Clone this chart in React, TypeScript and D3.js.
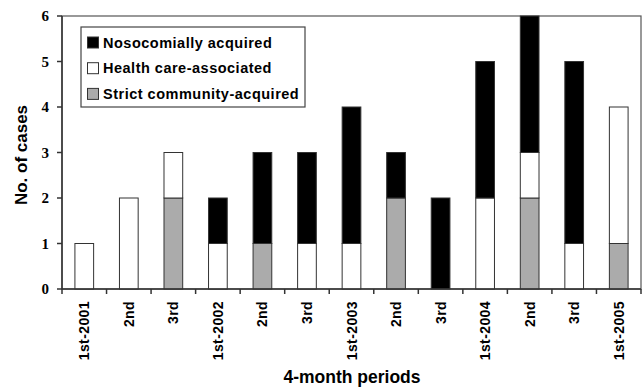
import React, { useEffect, useRef } from "react";
import * as d3 from "d3";

const categories = ["1st-2001", "2nd", "3rd", "1st-2002", "2nd", "3rd", "1st-2003", "2nd", "3rd", "1st-2004", "2nd", "3rd", "1st-2005"];
const community = [0, 0, 2, 0, 1, 0, 0, 2, 0, 0, 2, 0, 1];
const healthCare = [1, 2, 1, 1, 0, 1, 1, 0, 0, 2, 1, 1, 3];
const nosocomial = [0, 0, 0, 1, 2, 2, 3, 1, 2, 3, 3, 4, 0];
const yTicks = [0, 1, 2, 3, 4, 5, 6];
const seriesNames = ["Nosocomially acquired", "Health care-associated", "Strict community-acquired"];

const W = 643, H = 388;
const M = { left: 62, right: 641, top: 16, bottom: 289 };

export default function App() {
  const ref = useRef<SVGSVGElement>(null);
  useEffect(() => {
    const svg = d3.select(ref.current);
    svg.selectAll("*").remove();
    const idx = categories.map((_, i) => i);
    const x = d3.scaleBand<number>().domain(idx).range([M.left, M.right]).paddingInner(0.58).paddingOuter(0.29);
    const xb = d3.scaleBand<number>().domain(idx).range([M.left, M.right]);
    const y = d3.scaleLinear().domain([0, 6]).range([M.bottom, M.top]);

    const rows = idx.map(i => ({ i, community: community[i], healthCare: healthCare[i], nosocomial: nosocomial[i] }));
    const stack = d3.stack<any>().keys(["community", "healthCare", "nosocomial"]);
    const layers = stack(rows);
    const fills: Record<string, string> = { community: "#ababab", healthCare: "#ffffff", nosocomial: "#000000" };

    // frame
    svg.append("rect").attr("x", M.left).attr("y", M.top).attr("width", M.right - M.left).attr("height", M.bottom - M.top)
      .attr("fill", "none").attr("stroke", "#555").attr("stroke-width", 1.2);

    layers.forEach(layer => {
      svg.append("g").selectAll("rect").data(layer.filter(d => d[1] - d[0] > 0)).join("rect")
        .attr("x", (d: any) => x(d.data.i)!)
        .attr("width", x.bandwidth())
        .attr("y", d => y(d[1]))
        .attr("height", d => y(d[0]) - y(d[1]))
        .attr("fill", fills[layer.key])
        .attr("stroke", "#333").attr("stroke-width", 1);
    });

    // axes
    svg.append("line").attr("x1", M.left).attr("x2", M.left).attr("y1", M.top).attr("y2", M.bottom).attr("stroke", "#333").attr("stroke-width", 1.5);
    svg.append("line").attr("x1", M.left).attr("x2", M.right).attr("y1", M.bottom).attr("y2", M.bottom).attr("stroke", "#333").attr("stroke-width", 1.5);
    yTicks.forEach(t => {
      svg.append("line").attr("x1", M.left - 5).attr("x2", M.left).attr("y1", y(t)).attr("y2", y(t)).attr("stroke", "#333").attr("stroke-width", 1.5);
      svg.append("text").attr("x", 49).attr("y", y(t) + 5).attr("text-anchor", "end")
        .attr("font-family", "Liberation Serif, serif").attr("font-weight", "bold").attr("font-size", 15).text(t);
    });
    idx.concat([categories.length]).forEach(i => {
      const xx = i < categories.length ? xb(i)! : M.right;
      svg.append("line").attr("x1", xx).attr("x2", xx).attr("y1", M.bottom).attr("y2", M.bottom + 5).attr("stroke", "#333").attr("stroke-width", 1.5);
    });
    idx.forEach(i => {
      const cx = xb(i)! + xb.bandwidth() / 2;
      svg.append("text").attr("transform", `translate(${cx + 5},301) rotate(-90)`).attr("text-anchor", "end")
        .attr("font-family", "Liberation Sans, Arial, sans-serif").attr("font-weight", "bold").attr("font-size", 14)
        .attr("letter-spacing", 0.4).text(categories[i]);
    });

    svg.append("text").attr("transform", `translate(27,155) rotate(-90)`).attr("text-anchor", "middle")
      .attr("font-family", "Liberation Sans, Arial, sans-serif").attr("font-weight", "bold").attr("font-size", 17).text("No. of cases");
    svg.append("text").attr("x", 352).attr("y", 383).attr("text-anchor", "middle")
      .attr("font-family", "Liberation Sans, Arial, sans-serif").attr("font-weight", "bold").attr("font-size", 17.5).text("4-month periods");

    // legend
    const lg = svg.append("g");
    lg.append("rect").attr("x", 81).attr("y", 27).attr("width", 224).attr("height", 80).attr("fill", "#fff").attr("stroke", "#444").attr("stroke-width", 1.2);
    const legFills = [fills.nosocomial, fills.healthCare, fills.community];
    seriesNames.forEach((n, k) => {
      const cy = 42.5 + k * 25.7;
      lg.append("rect").attr("x", 87.5).attr("y", cy - 5.5).attr("width", 11).attr("height", 11).attr("fill", legFills[k]).attr("stroke", "#333");
      lg.append("text").attr("x", 103).attr("y", cy + 5).attr("font-family", "Liberation Sans, Arial, sans-serif")
        .attr("font-weight", "bold").attr("font-size", 14.5).attr("letter-spacing", 0.5).text(n);
    });
  }, []);
  return <svg ref={ref} width={W} height={H} style={{ position: "absolute", left: 0, top: 0, background: "#fff" }} />;
}
